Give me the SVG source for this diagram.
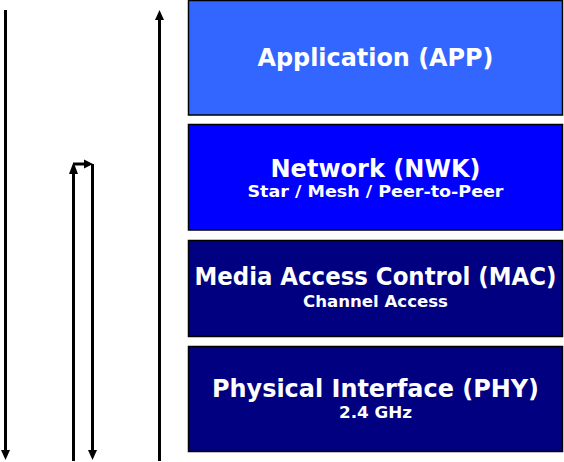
<svg xmlns="http://www.w3.org/2000/svg" width="564" height="462" viewBox="0 0 564 462">
<defs>
<style>
.box{stroke:#000;stroke-width:1.5}
.t{font-family:"DejaVu Sans",Verdana,sans-serif;font-weight:bold;fill:#fff;text-anchor:middle}
.title{font-size:24px}
.sub{font-size:16px}
.ln{stroke:#000;stroke-width:3;fill:none}
.hd{fill:#000}
</style>
</defs>
<rect width="564" height="462" fill="#fff"/>
<g id="app">
<rect class="box" x="188.5" y="0.5" width="374" height="114.5" fill="#3366FF"/>
<text class="t title" x="375.5" y="66" textLength="236" lengthAdjust="spacingAndGlyphs">Application (APP)</text>
</g>
<g id="nwk">
<rect class="box" x="188.5" y="124.5" width="374" height="105.5" fill="#0000FF"/>
<text class="t title" x="375.5" y="177" textLength="210" lengthAdjust="spacingAndGlyphs">Network (NWK)</text>
<text class="t sub" x="375.5" y="197" textLength="256" lengthAdjust="spacingAndGlyphs">Star / Mesh / Peer-to-Peer</text>
</g>
<g id="mac">
<rect class="box" x="188.5" y="240.5" width="374" height="96" fill="#000080"/>
<text class="t title" x="375.5" y="285" textLength="362" lengthAdjust="spacingAndGlyphs">Media Access Control (MAC)</text>
<text class="t sub" x="375.5" y="307" textLength="145" lengthAdjust="spacingAndGlyphs">Channel Access</text>
</g>
<g id="phy">
<rect class="box" x="188.5" y="346.5" width="374" height="105" fill="#000080"/>
<text class="t title" x="375.5" y="397" textLength="327" lengthAdjust="spacingAndGlyphs">Physical Interface (PHY)</text>
<text class="t sub" x="375.5" y="418" textLength="73" lengthAdjust="spacingAndGlyphs">2.4 GHz</text>
</g>
<g id="connectors">
<line class="ln" x1="5.5" y1="10" x2="5.5" y2="452"/>
<polygon class="hd" points="1,450 10,450 5.5,460"/>
<line class="ln" x1="159.5" y1="19" x2="159.5" y2="461"/>
<polygon class="hd" points="155,20 164,20 159.5,10"/>
<line class="ln" x1="73.5" y1="172" x2="73.5" y2="461"/>
<polygon class="hd" points="69,174 78,174 73.5,162"/>
<polyline class="ln" points="73.5,164 86,164"/>
<polygon class="hd" points="84,159.5 84,168.5 93,164"/>
<line class="ln" x1="92.5" y1="164" x2="92.5" y2="452"/>
<polygon class="hd" points="88,450 97,450 92.5,460"/>
</g>
</svg>
